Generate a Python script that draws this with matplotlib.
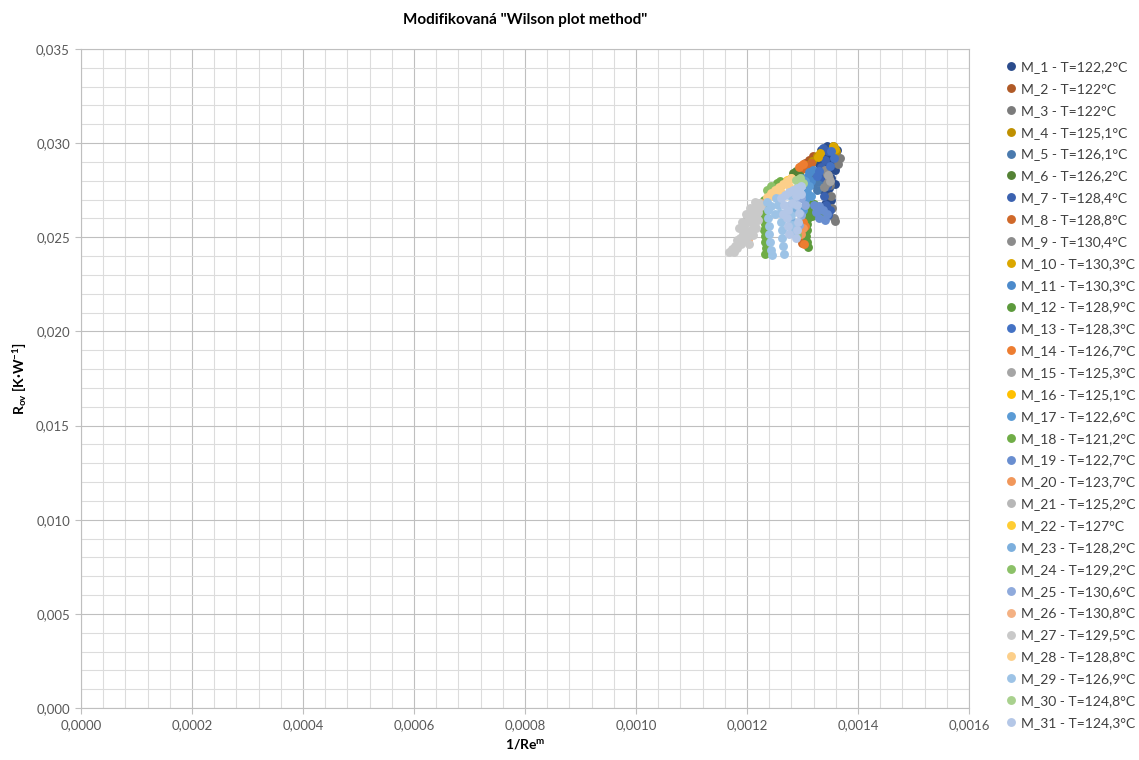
import matplotlib
matplotlib.use('Agg')
import matplotlib.pyplot as plt
from matplotlib.ticker import MultipleLocator, FuncFormatter

plt.rcParams['font.family'] = ['Lato', 'DejaVu Sans']
plt.rcParams['mathtext.default'] = 'regular'

# Popisky měření (legenda)
NAZVY = [
    'M_1 - T=122,2°C', 'M_2 - T=122°C', 'M_3 - T=122°C', 'M_4 - T=125,1°C',
    'M_5 - T=126,1°C', 'M_6 - T=126,2°C', 'M_7 - T=128,4°C', 'M_8 - T=128,8°C',
    'M_9 - T=130,4°C', 'M_10 - T=130,3°C', 'M_11 - T=130,3°C', 'M_12 - T=128,9°C',
    'M_13 - T=128,3°C', 'M_14 - T=126,7°C', 'M_15 - T=125,3°C', 'M_16 - T=125,1°C',
    'M_17 - T=122,6°C', 'M_18 - T=121,2°C', 'M_19 - T=122,7°C', 'M_20 - T=123,7°C',
    'M_21 - T=125,2°C', 'M_22 - T=127°C', 'M_23 - T=128,2°C', 'M_24 - T=129,2°C',
    'M_25 - T=130,6°C', 'M_26 - T=130,8°C', 'M_27 - T=129,5°C', 'M_28 - T=128,8°C',
    'M_29 - T=126,9°C', 'M_30 - T=124,8°C', 'M_31 - T=124,3°C',
]

BARVY = [
    '#2B4C8C', '#B05A27', '#7B7B7B', '#BF9000', '#4A7AAE', '#548235',
    '#3B62B0', '#D0692A', '#8C8C8C', '#DBA700', '#4C8ACB', '#5C9A3C',
    '#4472C4', '#ED7D31', '#A5A5A5', '#FFC000', '#5B9BD5', '#70AD47',
    '#698ED0', '#F1975A', '#B7B7B7', '#FFCD33', '#7CAFDD', '#8CC168',
    '#8FAADC', '#F4B183', '#C9C9C9', '#FCCF8A', '#9DC3E6', '#A9D18E',
    '#B4C7E7',
]

# 1/Re^m (x) a R_ov (y) pro jednotlivá měření
M01_X = [0.0013327, 0.0013435, 0.0013543, 0.0013615, 0.0013579, 0.0013471, 0.0013363, 0.0013291,
         0.0013399, 0.0013507, 0.0013615, 0.0013579, 0.0013471, 0.0013327, 0.0013291, 0.0013399,
         0.0013507, 0.0013579, 0.0013471, 0.0013363, 0.0013435, 0.0013507, 0.0013399, 0.0013435]
M01_Y = [0.029636, 0.029849, 0.029849, 0.029636, 0.029318, 0.029424, 0.029211, 0.028893,
         0.028893, 0.028999, 0.028999, 0.028574, 0.028468, 0.028468, 0.028043, 0.028043,
         0.028149, 0.027831, 0.027618, 0.027512, 0.027194, 0.026981, 0.026769, 0.026344]
M02_X = [0.0012912, 0.0012966, 0.0013038, 0.0013111, 0.0013183]
M02_Y = [0.028574, 0.028787, 0.028946, 0.029105, 0.029318]
M03_X = [0.0013670, 0.0013634, 0.0013489, 0.0013507, 0.0013525, 0.0013561, 0.0013579]
M03_Y = [0.029211, 0.028893, 0.027778, 0.027194, 0.026556, 0.026025, 0.025866]
M04_X = [0.0013561, 0.0013597, 0.0012984, 0.0013074, 0.0013165, 0.0013255]
M04_Y = [0.029796, 0.029583, 0.028627, 0.028840, 0.029052, 0.029318]
M05_X = [0.0013147, 0.0013219, 0.0013291, 0.0013183, 0.0013255]
M05_Y = [0.028309, 0.028149, 0.027937, 0.027831, 0.027512]
M06_X = [0.0012822, 0.0012876, 0.0012930]
M06_Y = [0.028415, 0.028521, 0.028362]
M07_X = [0.0013363, 0.0013453, 0.0013399, 0.0013327, 0.0013363, 0.0013435, 0.0013381, 0.0013417,
         0.0013453, 0.0013489]
M07_Y = [0.029743, 0.029583, 0.029105, 0.028734, 0.028203, 0.027725, 0.027194, 0.026716,
         0.026184, 0.026450]
M08_X = [0.0013020, 0.0013093, 0.0013147, 0.0012984, 0.0013002, 0.0013038]
M08_Y = [0.028681, 0.028787, 0.028946, 0.024698, 0.024910, 0.025335]
M09_X = [0.0013399, 0.0013435, 0.0013471, 0.0013435, 0.0013381]
M09_Y = [0.028574, 0.028362, 0.028149, 0.027884, 0.027672]
M10_X = [0.0013543, 0.0013579, 0.0013273, 0.0013309]
M10_Y = [0.029849, 0.029689, 0.029265, 0.029477]
M11_X = [0.0013111, 0.0013183, 0.0013074, 0.0013147]
M11_Y = [0.028468, 0.028574, 0.028203, 0.027990]
M12_X = [0.0013093, 0.0013111, 0.0013111, 0.0013093, 0.0013074, 0.0013074, 0.0013056, 0.0013074,
         0.0013093, 0.0013201, 0.0013273, 0.0013309, 0.0013165]
M12_Y = [0.026981, 0.026663, 0.026344, 0.026025, 0.025706, 0.025388, 0.025069, 0.024751,
         0.024485, 0.026769, 0.026610, 0.026291, 0.026131]
M13_X = [0.0013507, 0.0013561, 0.0013489, 0.0013291, 0.0013255]
M13_Y = [0.029583, 0.029211, 0.028787, 0.028521, 0.028256]
M14_X = [0.0012930, 0.0013002, 0.0013002, 0.0013038, 0.0013020]
M14_Y = [0.028734, 0.028893, 0.025813, 0.025600, 0.024645]
M15_X = [0.0013453, 0.0013489]
M15_Y = [0.028309, 0.027990]
M16_X = [0.0012606, 0.0012678]
M16_Y = [0.027778, 0.027884]
M17_X = [0.0012966, 0.0013038, 0.0013111, 0.0013074, 0.0013147, 0.0013038, 0.0013002]
M17_Y = [0.028149, 0.027990, 0.027725, 0.027406, 0.027194, 0.026981, 0.026450]
M18_X = [0.0012299, 0.0012281, 0.0012281, 0.0012299, 0.0012317, 0.0012299, 0.0012317, 0.0012317,
         0.0012335, 0.0012317, 0.0012533, 0.0012588, 0.0012497]
M18_Y = [0.026981, 0.026663, 0.026344, 0.026025, 0.025706, 0.025388, 0.025069, 0.024751,
         0.024432, 0.024113, 0.027884, 0.027990, 0.027672]
M19_X = [0.0013201, 0.0013291, 0.0013363, 0.0013435, 0.0013399, 0.0013291, 0.0013237]
M19_Y = [0.026716, 0.026663, 0.026450, 0.026237, 0.025919, 0.026025, 0.026344]
M20_X = [0.0012966, 0.0013002]
M20_Y = [0.025175, 0.025494]
M21_X = [0.0011975, 0.0012065]
M21_Y = [0.025919, 0.026184]
M22_X = [0.0012714, 0.0012786]
M22_Y = [0.028043, 0.028149]
M23_X = [0.0012786, 0.0012876, 0.0012822, 0.0012786]
M23_Y = [0.027247, 0.026981, 0.026450, 0.025919]
M24_X = [0.0012353, 0.0012425, 0.0012858, 0.0012894]
M24_Y = [0.027512, 0.027725, 0.025494, 0.025122]
M25_X = [0.0012966, 0.0013038, 0.0012966, 0.0012930]
M25_Y = [0.027087, 0.026716, 0.026184, 0.025653]
M26_X = [0.0012011, 0.0012245, 0.0011957]
M26_Y = [0.024857, 0.026822, 0.025069]
M27_X = [0.0011668, 0.0011722, 0.0011776, 0.0011812, 0.0011866, 0.0011921, 0.0011975, 0.0011939,
         0.0011993, 0.0012029, 0.0012065, 0.0012101, 0.0012155, 0.0012209, 0.0012245, 0.0012191,
         0.0012137, 0.0012101, 0.0012065, 0.0012011, 0.0011957, 0.0011884, 0.0011812, 0.0011758,
         0.0011848, 0.0011902, 0.0011975, 0.0012047, 0.0012137, 0.0012191, 0.0012155, 0.0012101,
         0.0012029]
M27_Y = [0.024220, 0.024379, 0.024538, 0.024857, 0.024963, 0.025175, 0.025282, 0.025600,
         0.025813, 0.026025, 0.026237, 0.026450, 0.026663, 0.026822, 0.026663, 0.026344,
         0.026025, 0.025706, 0.025388, 0.025069, 0.024857, 0.024645, 0.024432, 0.024220,
         0.025494, 0.025813, 0.026237, 0.026556, 0.026875, 0.025919, 0.025494, 0.025122,
         0.024645]
M28_X = [0.0012353, 0.0012425, 0.0012497, 0.0012569, 0.0012642, 0.0012714, 0.0012786, 0.0012461,
         0.0012606, 0.0012750]
M28_Y = [0.027140, 0.027353, 0.027512, 0.027672, 0.027831, 0.027990, 0.028149, 0.027194,
         0.027406, 0.027725]
M29_X = [0.0012353, 0.0012371, 0.0012371, 0.0012389, 0.0012389, 0.0012407, 0.0012425, 0.0012443,
         0.0012515, 0.0012551, 0.0012588, 0.0012606, 0.0012624, 0.0012624, 0.0012642, 0.0012660,
         0.0012750, 0.0012768, 0.0012786, 0.0012804, 0.0012822, 0.0012425, 0.0012497]
M29_Y = [0.026875, 0.026450, 0.026025, 0.025600, 0.025175, 0.024751, 0.024326, 0.024060,
         0.027087, 0.026716, 0.026291, 0.025813, 0.025388, 0.024963, 0.024538, 0.024113,
         0.027247, 0.026716, 0.026184, 0.025653, 0.025229, 0.026663, 0.026237]
M30_X = [0.0012876, 0.0012948, 0.0013002, 0.0012912]
M30_Y = [0.028043, 0.028149, 0.027884, 0.027725]
M31_X = [0.0012606, 0.0012678, 0.0012750, 0.0012822, 0.0012894, 0.0012966, 0.0012876, 0.0012804,
         0.0012732, 0.0012714, 0.0012732, 0.0012750, 0.0012894, 0.0012930, 0.0012912, 0.0012894,
         0.0012876, 0.0012660, 0.0012642, 0.0012966]
M31_Y = [0.027087, 0.027247, 0.027406, 0.027512, 0.027618, 0.027725, 0.027194, 0.026822,
         0.026450, 0.026025, 0.025600, 0.025175, 0.026716, 0.026291, 0.025813, 0.025388,
         0.024963, 0.026716, 0.026237, 0.027300]

SERIE_X = [M01_X, M02_X, M03_X, M04_X, M05_X, M06_X, M07_X, M08_X, M09_X, M10_X, M11_X,
           M12_X, M13_X, M14_X, M15_X, M16_X, M17_X, M18_X, M19_X, M20_X, M21_X, M22_X,
           M23_X, M24_X, M25_X, M26_X, M27_X, M28_X, M29_X, M30_X, M31_X]
SERIE_Y = [M01_Y, M02_Y, M03_Y, M04_Y, M05_Y, M06_Y, M07_Y, M08_Y, M09_Y, M10_Y, M11_Y,
           M12_Y, M13_Y, M14_Y, M15_Y, M16_Y, M17_Y, M18_Y, M19_Y, M20_Y, M21_Y, M22_Y,
           M23_Y, M24_Y, M25_Y, M26_Y, M27_Y, M28_Y, M29_Y, M30_Y, M31_Y]


def main():
    fig = plt.figure(figsize=(11.39, 7.60), dpi=100)
    ax = fig.add_axes([81 / 1139, 1 - 708 / 760, 888 / 1139, 659 / 760])

    for x, y, barva, nazev in zip(SERIE_X, SERIE_Y, BARVY, NAZVY):
        ax.plot(x, y, 'o', ms=6.4, mew=0, color=barva, label=nazev, zorder=3)

    ax.set_xlim(0, 0.0016)
    ax.set_ylim(0, 0.035)
    ax.xaxis.set_major_locator(MultipleLocator(0.0002))
    ax.xaxis.set_minor_locator(MultipleLocator(0.00004))
    ax.yaxis.set_major_locator(MultipleLocator(0.005))
    ax.yaxis.set_minor_locator(MultipleLocator(0.001))
    ax.xaxis.set_major_formatter(FuncFormatter(lambda v, p: f'{v:.4f}'.replace('.', ',')))
    ax.yaxis.set_major_formatter(FuncFormatter(lambda v, p: f'{v:.3f}'.replace('.', ',')))

    # Mřížka jako v Excelu
    ax.grid(True, which='major', color='#BFBFBF', linewidth=0.8, zorder=0)
    ax.grid(True, which='minor', color='#DCDCDC', linewidth=0.8, zorder=0)
    ax.set_axisbelow(True)
    for s in ax.spines.values():
        s.set_color('#BFBFBF')
        s.set_linewidth(0.8)
    ax.tick_params(which='major', length=4, color='#BFBFBF', labelcolor='#595959',
                   labelsize=9.5, pad=4)
    ax.tick_params(which='minor', length=0)

    ax.set_title('Modifikovaná "Wilson plot method"', fontsize=11, fontweight='bold',
                 color='#000000', pad=18)
    ax.set_xlabel('1/Re$^{m}$', fontsize=10, fontweight='bold', labelpad=4)
    ax.set_ylabel('R$_{ov}$ [K·W$^{-1}$]', fontsize=10, fontweight='bold', labelpad=5)

    fig.legend(loc='upper left', bbox_to_anchor=(1007 / 1139, 1 - 61 / 760), frameon=False,
               fontsize=10, handlelength=0.6, handletextpad=0.4, labelspacing=0.71,
               borderpad=0, borderaxespad=0, markerscale=1.0, labelcolor='#404040')

    fig.savefig('out.png', dpi=100)


if __name__ == "__main__":
    main()
